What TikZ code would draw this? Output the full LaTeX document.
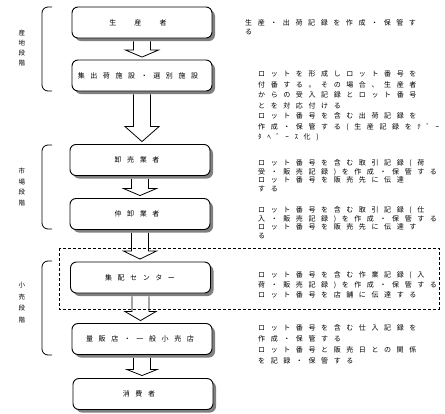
\documentclass[tikz,border=0pt]{standalone}
\usepackage{fontspec}
\usetikzlibrary{calc,shadows}
\newfontfamily\jp{Noto Sans CJK JP}
\newfontfamily\jpsp[LetterSpace=80]{Noto Sans CJK JP}
\newcommand\blockarrow[4]{%
  \draw[blockarr] let \p1=(#1.south), \p2=(#2.north) in
    (\x1-8.5pt,\y1-3pt) -- (\x1-8.5pt,\y2+2.5pt+#3) -- (\x1-#4,\y2+2.5pt+#3)
    -- (\x1,\y2+2.5pt) -- (\x1+#4,\y2+2.5pt+#3) -- (\x1+8.5pt,\y2+2.5pt+#3)
    -- (\x1+8.5pt,\y1-3pt);}
\tikzset{
  box/.style={draw, line width=0.9pt, rounded corners=6pt, minimum width=140pt,
    minimum height=31pt, inner sep=0pt, fill=white,
    font={\jpsp\fontsize{7pt}{9pt}\selectfont},
    drop shadow={shadow xshift=3pt, shadow yshift=-3pt, fill=black!50, opacity=1}},
  blockarr/.style={draw, line width=0.8pt, line join=miter},
  note/.style={anchor=north west, inner sep=0pt, align=left},
  stage/.style={inner sep=0pt, align=center},
  bracket/.style={draw, line width=0.8pt, rounded corners=6pt},
  dashbox/.style={draw, line width=1pt, dash pattern=on 3pt off 2pt}
}
\begin{document}
\begin{tikzpicture}[x=1pt,y=-1pt]
\useasboundingbox (0,0) rectangle (445,413);
% boxes
\node[box] (b1) at (142,22.5) {生　産　者\hspace*{8pt}};
\node[box] (b2) at (142,75.5) {集出荷施設・選別施設\hspace*{8pt}};
\node[box] (b3) at (140,160) {卸売業者\hspace*{6pt}};
\node[box] (b4) at (140,214) {仲卸業者\hspace*{6pt}};
\node[box] (b5) at (140.5,277.5) {集配センター\hspace*{1pt}};
\node[box] (b6) at (142,339) {量販店・一般小売店\hspace*{4pt}};
\node[box] (b7) at (143,394) {消費者\hspace*{8pt}};
% arrows
\blockarrow{b1}{b2}{7pt}{16.5pt}
\blockarrow{b2}{b3}{15pt}{17pt}
\blockarrow{b3}{b4}{7pt}{16.5pt}
\blockarrow{b4}{b5}{8pt}{16.5pt}
\blockarrow{b5}{b6}{9pt}{15.5pt}
\blockarrow{b6}{b7}{6pt}{15pt}
% dashed group
\draw[dashbox] (59,248) rectangle (439,309);
% brackets
\draw[bracket] (52,7) -- (42,7) -- (42,91) -- (52,91);
\draw[bracket] (52,145) -- (42,145) -- (42,229) -- (52,229);
\draw[bracket] (52,261) -- (42,261) -- (42,355) -- (52,355);
% stage labels
\node[stage, font={\jp\fontsize{6.5pt}{10pt}\selectfont}] (s1) at (22,48) {産\\地\\段\\階};
\node[stage, font={\jp\fontsize{6.5pt}{10.7pt}\selectfont}] (s2) at (22,187) {市\\場\\段\\階};
\node[stage, font={\jp\fontsize{6.5pt}{11.5pt}\selectfont}] (s3) at (22,302.5) {小\\売\\段\\階};
% notes
\node[note, font={\jpsp\fontsize{7pt}{9pt}\selectfont}] (t1) at (245,19.5) {生産・出荷記録を作成・保管す\\る};
\node[note, font={\jpsp\fontsize{7pt}{10.5pt}\selectfont}] (t2) at (258,70.5) {ロットを形成しロット番号を\\付番する。その場合、生産者\\からの受入記録とロット番号\\とを対応付ける\\ロット番号を含む出荷記録を\\作成・保管する(生産記録をﾃﾞｰ\\ﾀﾍﾞｰｽ化)};
\node[note, font={\jpsp\fontsize{7pt}{8.6pt}\selectfont}] (t3) at (258,159.5) {ロット番号を含む取引記録(荷\\受・販売記録)を作成・保管する\\ロット番号を販売先に伝達\\する};
\node[note, font={\jpsp\fontsize{7pt}{8.5pt}\selectfont}] (t4) at (258,206.5) {ロット番号を含む取引記録(仕\\入・販売記録)を作成・保管する\\ロット番号を販売先に伝達す\\る};
\node[note, font={\jpsp\fontsize{7pt}{10pt}\selectfont}] (t5) at (258,271.5) {ロット番号を含む作業記録(入\\荷・販売記録)を作成・保管する\\ロット番号を店舗に伝達する};
\node[note, font={\jpsp\fontsize{7pt}{11pt}\selectfont}] (t6) at (258,324.5) {ロット番号を含む仕入記録を\\作成・保管する\\ロット番号と販売日との関係\\を記録・保管する};
\end{tikzpicture}
\end{document}
